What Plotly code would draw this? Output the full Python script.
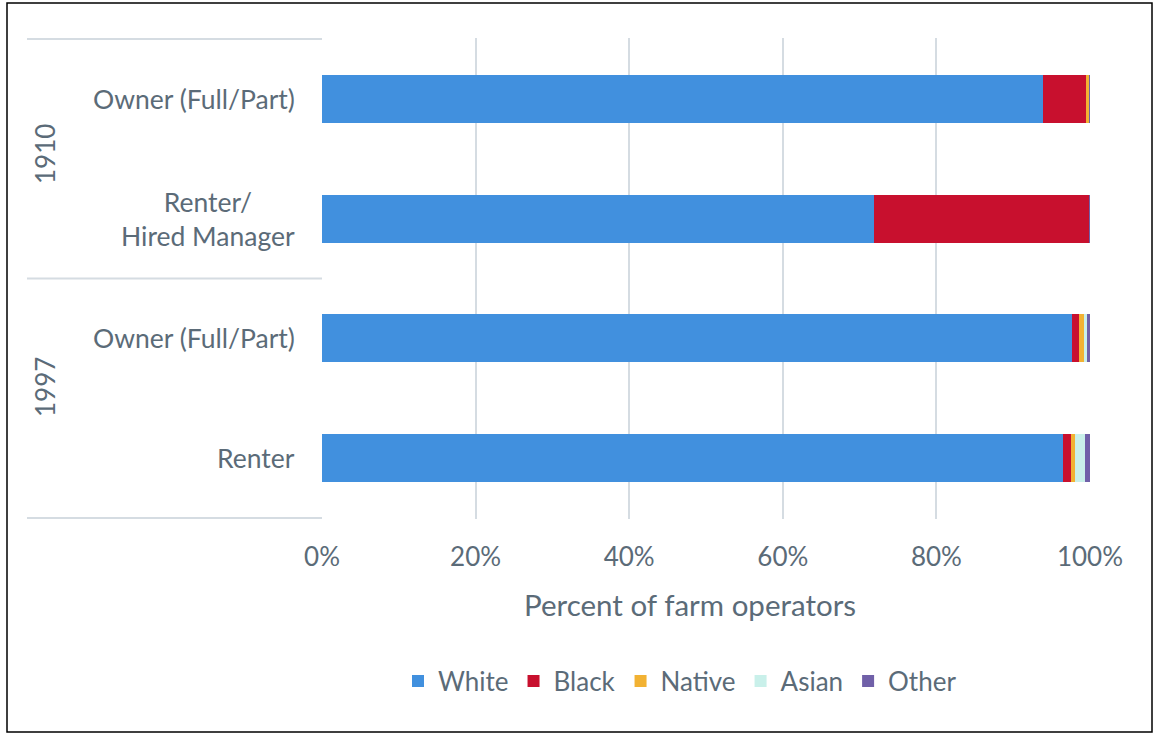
import plotly.graph_objects as go

years = ["1910", "1910", "1997", "1997"]
tenure = ["Owner (Full/Part)", "Renter/<br>Hired Manager", "Owner (Full/Part)", "Renter"]
series = ["White", "Black", "Native", "Asian", "Other"]
white = [93.9, 71.9, 97.6, 96.5]
black = [5.6, 28.0, 1.0, 1.0]
native = [0.4, 0.05, 0.65, 0.6]
asian = [0.05, 0.02, 0.35, 1.2]
other = [0.05, 0.03, 0.4, 0.7]
colors = ["#4190DE", "#C8102E", "#F2B233", "#C9F0EA", "#7060A8"]
x_ticks = [0, 20, 40, 60, 80, 100]
x_title = "Percent of farm operators"

W, H = 1154, 734
L, R, T, B = 322, 1090, 38, 519
FONT = "Lato"
TXT = "#5B6B78"
GRID = "#D5DCE2"

def px(x):
    return (x - L) / (R - L)

def py(y):
    return (B - y) / (B - T)

ids = [f"{y}|{c}" for y, c in zip(years, tenure)]
fig = go.Figure()
for name, vals, col in zip(series, [white, black, native, asian, other], colors):
    fig.add_trace(go.Bar(y=ids, x=vals, name=name, orientation="h",
                         marker=dict(color=col, line=dict(width=0)), width=0.4))

annotations = []
for i, c in enumerate(tenure):
    annotations.append(dict(x=px(297), xref="paper", y=ids[i], yref="y", text=c,
                            showarrow=False, xanchor="right", align="center",
                            font=dict(family=FONT, size=26.5, color=TXT)))
for yr, ypix in [("1910", 154), ("1997", 387)]:
    annotations.append(dict(x=px(45), xref="paper", y=py(ypix), yref="paper", text=yr,
                            showarrow=False, textangle=-90, xanchor="center", yanchor="middle",
                            font=dict(family=FONT, size=26, color=TXT)))
annotations.append(dict(x=px(690), xref="paper", y=py(604), yref="paper", text=x_title,
                        showarrow=False, xanchor="center", yanchor="middle",
                        font=dict(family=FONT, size=29.5, color=TXT)))

shapes = []
for yv in [-0.5, 1.5, 3.5]:
    shapes.append(dict(type="line", xref="paper", yref="y", x0=px(27), x1=0, y0=yv, y1=yv,
                       line=dict(color=GRID, width=2)))
shapes.append(dict(type="rect", xref="paper", yref="paper", x0=px(7), x1=px(1152),
                   y0=py(732), y1=py(3), line=dict(color="#000000", width=1.5), layer="below"))

fig.update_layout(
    width=W, height=H, barmode="stack", bargap=0.6,
    margin=dict(l=L, r=W - R, t=T, b=H - B),
    paper_bgcolor="white", plot_bgcolor="white",
    font=dict(family=FONT, color=TXT),
    xaxis=dict(range=[0, 100], tickvals=x_ticks, ticktext=[f"{v}%" for v in x_ticks],
               showgrid=True, gridcolor=GRID, gridwidth=2, zeroline=False,
               tickfont=dict(family=FONT, size=26, color=TXT), ticks="", ticklabelstandoff=20),
    yaxis=dict(autorange="reversed", showticklabels=False, showgrid=False, zeroline=False,
               showline=False, range=[3.5, -0.5]),
    legend=dict(orientation="h", x=px(680), xanchor="center", y=py(681), yanchor="middle",
                font=dict(family=FONT, size=26, color=TXT), traceorder="normal",
                itemwidth=30, bgcolor="rgba(0,0,0,0)"),
    annotations=annotations, shapes=shapes,
)
fig.write_html("out.html", config={"displayModeBar": False},
               post_script="document.body.style.margin='0';document.body.style.overflow='hidden';window.dispatchEvent(new Event('resize'));")
